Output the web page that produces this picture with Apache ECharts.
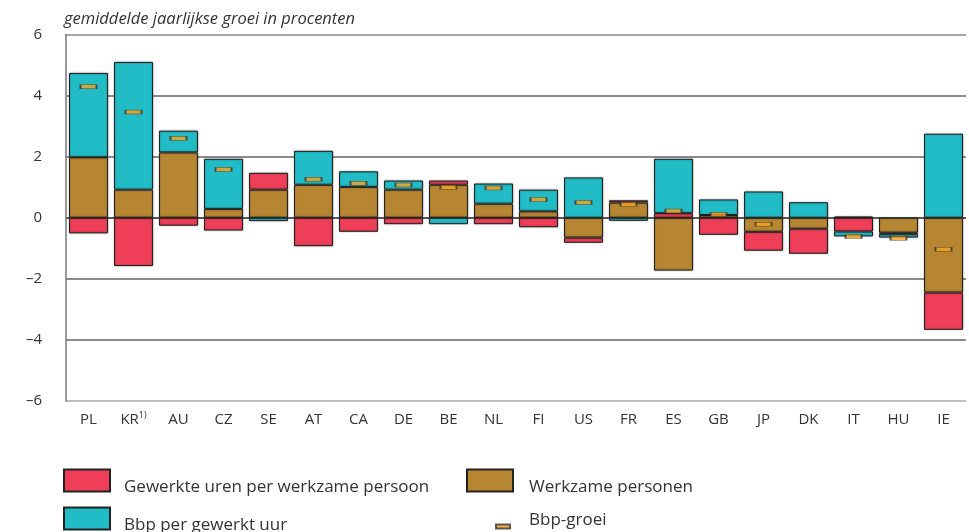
<!DOCTYPE html>
<html>
<head>
<meta charset="utf-8">
<script src="https://cdn.jsdelivr.net/npm/echarts@6/dist/echarts.min.js"></script>
<style>
  html, body { margin: 0; padding: 0; background: #fff; }
  #main { width: 969px; height: 532px; }
</style>
</head>
<body>
<div id="main"></div>
<script>
// landen
var categories = ['PL', 'KR', 'AU', 'CZ', 'SE', 'AT', 'CA', 'DE', 'BE', 'NL',
                  'FI', 'US', 'FR', 'ES', 'GB', 'JP', 'DK', 'IT', 'HU', 'IE'];

// bijdragen aan de groei (procentpunten)
var werkzamePersonen = [1.98, 0.92, 2.14, 0.29, 0.92, 1.08, 1.01, 0.92, 1.08, 0.46,
                        0.21, -0.65, 0.50, -1.73, 0.09, -0.46, -0.36, 0.04, -0.49, -2.45];
var urenPerPersoon   = [-0.51, -1.58, -0.26, -0.42, 0.55, -0.93, -0.46, -0.21, 0.14, -0.21,
                        -0.31, -0.17, 0.07, 0.15, -0.56, -0.62, -0.82, -0.45, -0.05, -1.22];
var bbpPerUur        = [2.76, 4.18, 0.71, 1.64, -0.11, 1.11, 0.51, 0.30, -0.21, 0.66,
                        0.71, 1.32, -0.10, 1.78, 0.51, 0.86, 0.51, -0.16, -0.11, 2.75];
// totale bbp-groei (SE en DK zonder markering)
var bbpGroei         = [4.29, 3.46, 2.60, 1.58, null, 1.26, 1.13, 1.07, 1.00, 0.97,
                        0.60, 0.50, 0.44, 0.22, 0.11, -0.21, null, -0.61, -0.67, -1.03];

var yTicks = [-6, -4, -2, 0, 2, 4, 6];

var font = 'Open Sans';
var textColor = '#333';

var names = {
    uren: 'Gewerkte uren per werkzame persoon',
    pers: 'Werkzame personen',
    uur: 'Bbp per gewerkt uur',
    groei: 'Bbp-groei'
};

var barBorder = { borderColor: '#222', borderWidth: 1, shadowBlur: 2, shadowColor: 'rgba(0,0,0,0.35)' };

function barStyle(color) {
    return Object.assign({ color: color }, barBorder);
}

// legenda-item met eigen positie; pad verschuift de tekst t.o.v. het icoon
function legendItem(name, left, top, w, h, pad) {
    return {
        data: [name],
        left: left,
        top: top,
        padding: 0,
        icon: 'rect',
        itemWidth: w,
        itemHeight: h,
        selectedMode: false,
        formatter: '{t|{name}}',
        textStyle: {
            rich: {
                t: { fontFamily: font, fontSize: 17, lineHeight: 20, color: textColor, padding: pad }
            }
        }
    };
}

var chart = echarts.init(document.getElementById('main'));
chart.setOption({
    animation: false,
    title: {
        text: 'gemiddelde jaarlijkse groei in procenten',
        left: 59,
        top: 6,
        textStyle: { fontFamily: font, fontSize: 16.5, fontStyle: 'italic', fontWeight: 'normal', color: textColor }
    },
    grid: { left: 66, right: 3, top: 34.5, bottom: 131 },
    legend: [
        legendItem(names.uren, 63, 465, 46, 22, [14, 0, 0, 9]),
        legendItem(names.pers, 466, 465, 46, 22, [14, 0, 0, 11]),
        legendItem(names.uur, 63, 503, 46, 22, [14, 0, 0, 9]),
        legendItem(names.groei, 495, 512, 14, 4, [0, 0, 12, 14])
    ],
    xAxis: {
        type: 'category',
        data: categories,
        axisLine: { show: false },
        axisTick: { show: false },
        axisLabel: {
            interval: 0,
            margin: 10,
            fontFamily: font,
            fontSize: 15,
            lineHeight: 18,
            color: textColor,
            formatter: function (v) { return v === 'KR' ? '{a|KR}{s|1)}' : v; },
            rich: {
                a: { fontFamily: font, fontSize: 15, lineHeight: 18, color: textColor },
                s: { fontFamily: font, fontSize: 9, lineHeight: 10, color: textColor, verticalAlign: 'top' }
            }
        }
    },
    yAxis: {
        type: 'value',
        min: yTicks[0],
        max: yTicks[yTicks.length - 1],
        interval: 2,
        axisLine: { show: true, lineStyle: { color: '#777', width: 1.5 } },
        axisTick: { show: false },
        axisLabel: {
            margin: 24,
            fontFamily: font,
            fontSize: 15,
            color: textColor,
            formatter: function (v) { return v < 0 ? '\u2013' + Math.abs(v) : String(v); }
        },
        splitLine: {
            lineStyle: {
                color: ['#aaa', '#666', '#666', '#222', '#666', '#666', '#888'],
                width: 1.5
            }
        }
    },
    series: [
        {
            name: names.pers,
            type: 'bar',
            stack: 'groei',
            barWidth: 39,
            itemStyle: barStyle('#b78632'),
            data: werkzamePersonen
        },
        {
            name: names.uren,
            type: 'bar',
            stack: 'groei',
            barWidth: 39,
            itemStyle: barStyle('#ee3e58'),
            data: urenPerPersoon
        },
        {
            name: names.uur,
            type: 'bar',
            stack: 'groei',
            barWidth: 39,
            itemStyle: barStyle('#21bcc6'),
            data: bbpPerUur
        },
        {
            name: names.groei,
            type: 'scatter',
            symbol: 'rect',
            symbolSize: [16, 4],
            z: 5,
            itemStyle: { color: '#f7a21b', borderColor: '#333', borderWidth: 1 },
            data: bbpGroei
        }
    ]
});
</script>
</body>
</html>
